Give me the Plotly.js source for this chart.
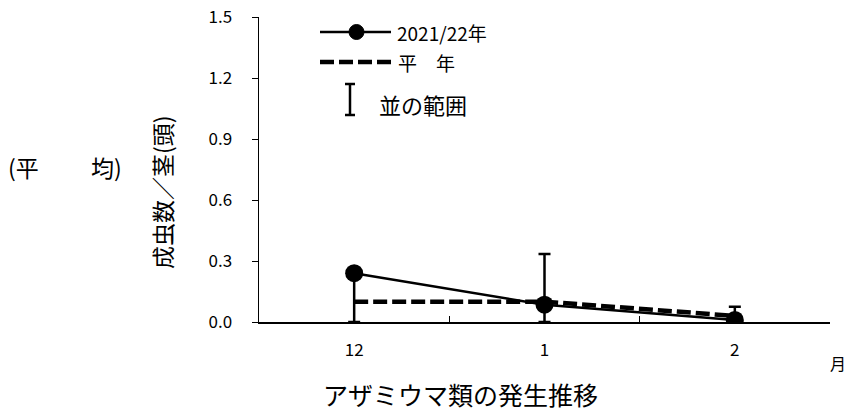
<!DOCTYPE html>
<html><head><meta charset="utf-8">
<script src="https://cdn.plot.ly/plotly-3.0.1.min.js"></script>
<style>body{margin:0;background:#fff}#c{width:848px;height:412px}</style>
</head><body><div id="c"></div>
<script>
const months = ['12', '1', '2'];
const current = [0.24, 0.085, 0.01];
const normal = [0.10, 0.10, 0.03];
const rangeHigh = [0.22, 0.335, 0.075];
const rangeLow = [0.0, 0.0, 0.0];
const yTicks = [0, 0.3, 0.6, 0.9, 1.2, 1.5];

const F = '"Noto Sans CJK JP", "Noto Sans", sans-serif';
const errPlus = rangeHigh.map((v, i) => v - normal[i]);
const errMinus = rangeLow.map((v, i) => normal[i] - v);

const traces = [
  {x: months, y: normal, type: 'scatter', mode: 'lines',
   line: {color: '#000', width: 4.5, dash: '14px,5px'},
   error_y: {type: 'data', symmetric: false, array: errPlus, arrayminus: errMinus,
             color: '#000', thickness: 2.5, width: 6},
   hoverinfo: 'none'},
  {x: months, y: current, type: 'scatter', mode: 'lines+markers',
   line: {color: '#000', width: 2.5},
   marker: {color: '#000', size: 18, symbol: 'circle'},
   hoverinfo: 'none'}
];

// helpers converting pixel offsets into paper fractions (plot area 259..830, 17..322)
const PX = (px) => (px - 259) / 571, PY = (py) => (322 - py) / 305;
const hline = (x0, x1, y, w, dash) => ({type: 'line', xref: 'paper', yref: 'paper',
  x0: PX(x0), x1: PX(x1), y0: PY(y), y1: PY(y), line: {color: '#000', width: w, dash: dash || 'solid'}});
const vline = (x, y0, y1, w) => ({type: 'line', xref: 'paper', yref: 'paper',
  x0: PX(x), x1: PX(x), y0: PY(y0), y1: PY(y1), line: {color: '#000', width: w}});
const txt = (t, x, y, size, xa, extra) => Object.assign({text: t, xref: 'paper', yref: 'paper',
  x: PX(x), y: PY(y), xanchor: xa || 'left', yanchor: 'middle', showarrow: false,
  font: {family: F, size: size, color: '#000'}}, extra || {});

const layout = {
  width: 848, height: 412,
  margin: {l: 259, r: 18, t: 17, b: 90},
  paper_bgcolor: '#fff', plot_bgcolor: '#fff',
  showlegend: false,
  font: {family: F, color: '#000', size: 18},
  xaxis: {type: 'category', range: [-0.5, 2.5], tickson: 'boundaries',
          ticks: 'inside', ticklen: 6, tickcolor: '#000', tickwidth: 1,
          showline: true, linecolor: '#000', linewidth: 1.5, showgrid: false, zeroline: false,
          ticklabelstandoff: 12, tickfont: {family: F, size: 17}},
  yaxis: {range: [0, 1.5], tickvals: yTicks, ticktext: yTicks.map(v => v.toFixed(1)),
          ticks: 'outside', ticklen: 6, tickcolor: '#000', tickwidth: 1,
          showline: true, linecolor: '#000', linewidth: 1.5, showgrid: false, zeroline: false,
          ticklabelstandoff: 16, tickfont: {family: F, size: 17}},
  shapes: [
    // legend: 2021/22
    hline(320, 391, 32, 2.5),
    {type: 'circle', xref: 'paper', yref: 'paper', x0: PX(349), x1: PX(364),
     y0: PY(39.5), y1: PY(24.5), fillcolor: '#000', line: {color: '#000', width: 1}},
    // legend: normal
    hline(320, 393, 62, 4.5, '14px,5px'),
    // legend: range
    vline(350, 84, 115, 2.5),
    hline(345, 355, 84, 2.5),
    hline(345, 355, 115, 2.5)
  ],
  annotations: [
    txt('2021/22年', 395, 32, 19),
    txt('平　年', 396, 62, 19),
    txt('並の範囲', 377, 104, 22),
    txt('(平', 6, 167, 23),
    txt('均)', 124, 167, 23, 'right'),
    txt('成虫数／茎(頭)', 162, 192, 23, 'center', {textangle: -90}),
    txt('月', 838, 363, 16, 'center'),
    txt('アザミウマ類の発生推移', 460, 394, 25, 'center')
  ]
};
Plotly.newPlot('c', traces, layout, {staticPlot: true});
</script></body></html>
